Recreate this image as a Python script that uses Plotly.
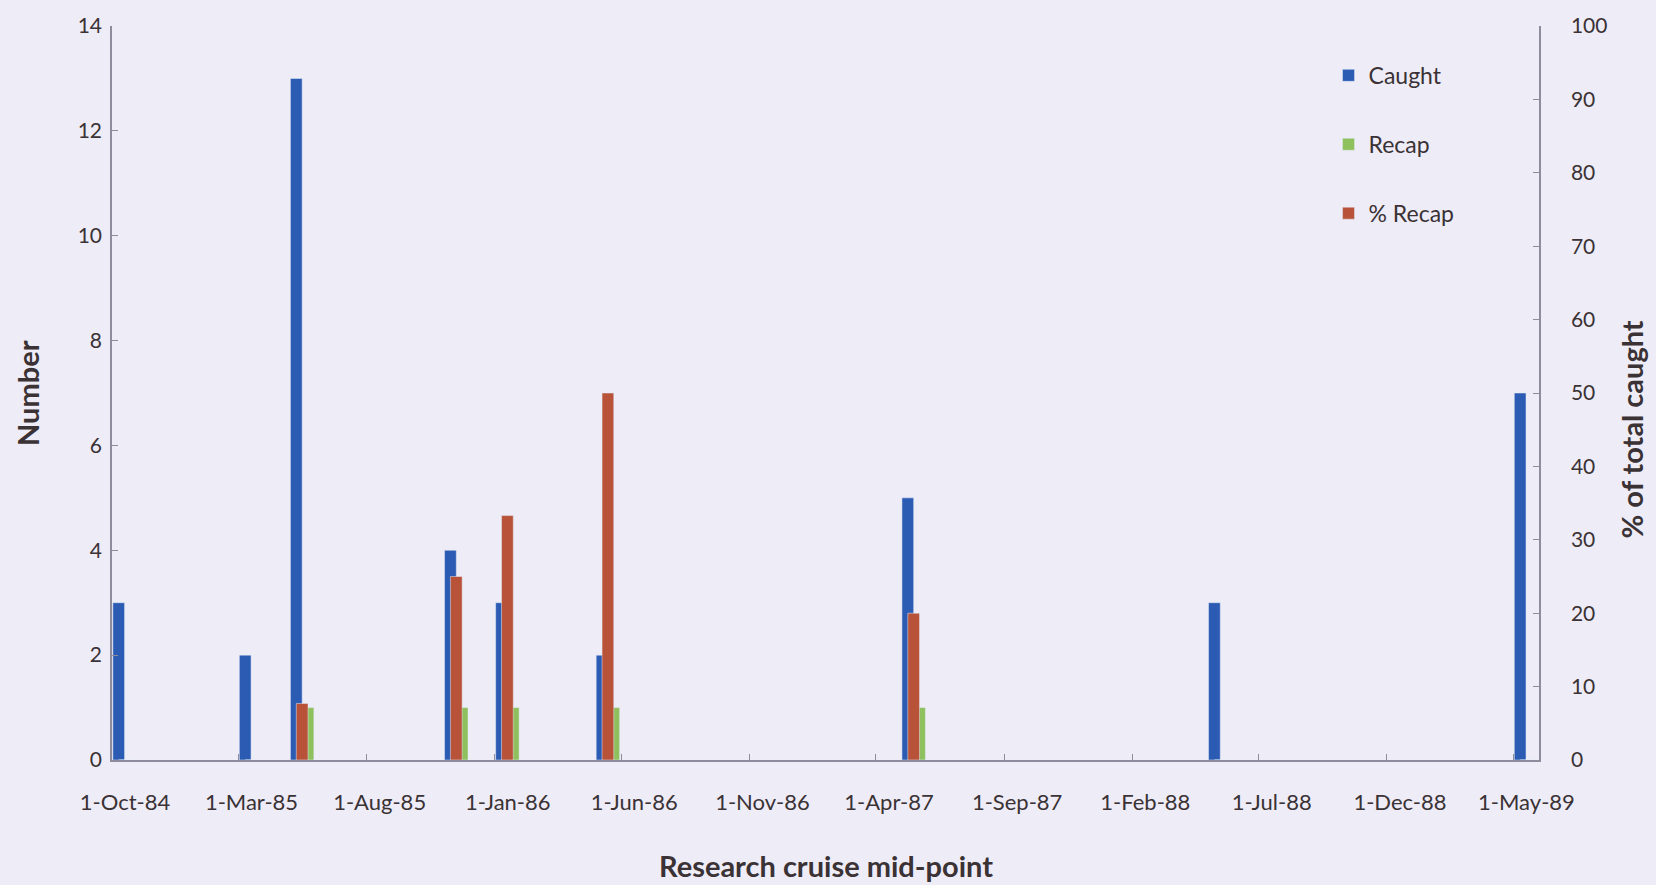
import pandas as pd
import plotly.graph_objects as go

# Cruise mid-point months and catch results
cruise_dates = ["1984-10-01", "1985-03-01", "1985-05-01", "1985-11-01", "1986-01-01",
                "1986-05-01", "1987-05-01", "1988-05-01", "1989-05-01"]
caught = [3, 2, 13, 4, 3, 2, 5, 3, 7]
recap = [0, 0, 1, 1, 1, 1, 1, 0, 0]
pct_recap = [0, 0, 7.7, 25, 33.3, 50, 20, 0, 0]

# Axis label dates (every five months)
tick_dates = ["1984-10-01", "1985-03-01", "1985-08-01", "1986-01-01", "1986-06-01",
              "1986-11-01", "1987-04-01", "1987-09-01", "1988-02-01", "1988-07-01",
              "1988-12-01", "1989-05-01"]
tick_labels = ["1-Oct-84", "1-Mar-85", "1-Aug-85", "1-Jan-86", "1-Jun-86", "1-Nov-86",
               "1-Apr-87", "1-Sep-87", "1-Feb-88", "1-Jul-88", "1-Dec-88", "1-May-89"]

BG = "#EEECF7"
TXT = "#3a3234"
AXIS = "#8c8c9c"
FONT = "Lato"

DAY_MS = 24 * 3600 * 1000
bar_w = 14 * DAY_MS

x = pd.to_datetime(cruise_dates)

fig = go.Figure()
fig.add_trace(go.Bar(x=x, y=caught, name="Caught", marker_color="#2C5BB3",
                     width=bar_w, offset=-bar_w, legendgroup="a", yaxis="y"))
fig.add_trace(go.Bar(x=x, y=recap, name="Recap", marker_color="#8EC05E",
                     width=bar_w, offset=0, legendgroup="b", yaxis="y"))
fig.add_trace(go.Bar(x=x, y=pct_recap, name="% Recap", marker_color="#B8533A",
                     width=bar_w, offset=-bar_w / 2, legendgroup="c", yaxis="y2"))

# Month slot boundaries carry the tick marks; labels sit mid-slot
tick_pos = pd.to_datetime(tick_dates) - pd.Timedelta(days=15)
x_start = pd.Timestamp(cruise_dates[0]) - pd.Timedelta(days=15)
x_end = pd.Timestamp(cruise_dates[-1]) + pd.Timedelta(days=15.5)

ytickfont = dict(family=FONT, size=21, color=TXT)
xtickfont = dict(family=FONT, size=22, color=TXT)
titlefont = dict(family=FONT, size=29, color=TXT, weight="bold")

fig.update_layout(
    width=1656, height=885,
    paper_bgcolor=BG, plot_bgcolor=BG,
    margin=dict(l=112, r=117, t=23, b=125),
    barmode="overlay",
    showlegend=True,
    legend=dict(x=0.8525, y=0.962, xanchor="left", yanchor="top",
                bgcolor="rgba(0,0,0,0)", tracegroupgap=36,
                font=dict(family=FONT, size=23, color=TXT)),
    xaxis=dict(type="date", range=[x_start, x_end], tickvals=tick_pos, ticktext=tick_labels,
               ticklabelshift=13, ticklabelstandoff=22, ticks="inside", ticklen=6,
               tickcolor=AXIS, showline=True, linecolor=AXIS, linewidth=1.5,
               showgrid=False, zeroline=False, tickfont=xtickfont),
    yaxis=dict(range=[0, 14], dtick=2, tick0=0, ticks="inside", ticklen=6, tickcolor=AXIS,
               ticklabelstandoff=4,
               showline=True, linecolor=AXIS, linewidth=1.5, showgrid=False,
               zeroline=False, tickfont=ytickfont),
    yaxis2=dict(range=[0, 100], dtick=10, tick0=0, overlaying="y", side="right",
                ticks="inside", ticklen=6, tickcolor=AXIS, ticklabelstandoff=26,
                showline=True, linecolor=AXIS, linewidth=1.5, showgrid=False,
                zeroline=False, tickfont=ytickfont),
)

fig.add_annotation(text="Number", xref="paper", yref="paper", x=-0.0596, y=0.5,
                   xanchor="center", yanchor="middle", textangle=-90,
                   showarrow=False, font=titlefont)
fig.add_annotation(text="% of total caught", xref="paper", yref="paper", x=1.065, y=0.45,
                   xanchor="center", yanchor="middle", textangle=-90,
                   showarrow=False, font=titlefont)
fig.add_annotation(text="Research cruise mid-point", xref="paper", yref="paper", x=0.5,
                   y=-0.144, xanchor="center", yanchor="middle",
                   showarrow=False, font=titlefont)

fig.write_html("out.html")
